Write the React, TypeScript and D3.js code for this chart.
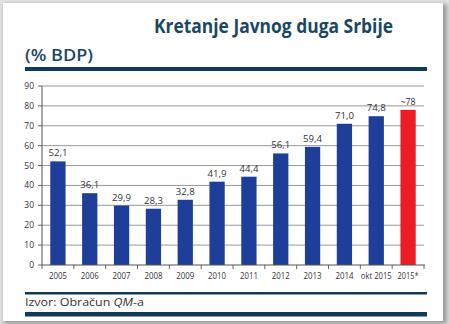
import React from "react";
import * as d3 from "d3";

const categories = ["2005", "2006", "2007", "2008", "2009", "2010", "2011", "2012", "2013", "2014", "okt 2015", "2015*"];
const values = [52.1, 36.1, 29.9, 28.3, 32.8, 41.9, 44.4, 56.1, 59.4, 71.0, 74.8, 78];
const valueLabels = ["52,1", "36,1", "29,9", "28,3", "32,8", "41,9", "44,4", "56,1", "59,4", "71,0", "74,8", "~78"];
const yTicks = [0, 10, 20, 30, 40, 50, 60, 70, 80, 90];
const highlighted = ["2015*"];

const W = 449;
const H = 324;
const plot = { left: 42, right: 424, top: 86, bottom: 265 };
const font = "'Open Sans', 'Noto Sans', sans-serif";
const dark = "#1a4863";

export default function App() {
  const x = d3.scaleBand<string>().domain(categories).range([plot.left, plot.right]).paddingInner(0.52).paddingOuter(0.26);
  const y = d3.scaleLinear().domain([0, 90]).range([plot.bottom, plot.top]);
  const step = x.step();
  const boundaries = d3.range(categories.length + 1).map((i) => plot.left + i * ((plot.right - plot.left) / categories.length));

  return (
    <svg width={W} height={H} style={{ position: "absolute", left: 0, top: 0 }} xmlns="http://www.w3.org/2000/svg">
      <defs>
        <filter id="sh" x="-10%" y="-10%" width="120%" height="120%">
          <feGaussianBlur stdDeviation="2" />
        </filter>
      </defs>
      <rect x={0} y={0} width={W} height={H} fill="#e2e2e2" />
      <rect x={4} y={4} width={443} height={320} fill="#9a9a9a" filter="url(#sh)" />
      <rect x={3} y={3} width={440} height={318} fill="#ffffff" />

      <text x={154} y={33} fontFamily={font} fontWeight={700} fontSize={19} fill={dark} textLength={239} lengthAdjust="spacingAndGlyphs">
        Kretanje Javnog duga Srbije
      </text>
      <text x={25} y={61} fontFamily={font} fontWeight={600} fontSize={17} fill={dark} textLength={68} lengthAdjust="spacingAndGlyphs">
        (% BDP)
      </text>
      <rect x={25} y={67} width={402} height={4} fill="#0f3b58" />

      {yTicks.map((t) => (
        <g key={t}>
          {t > 0 && <line x1={plot.left} x2={plot.right} y1={y(t)} y2={y(t)} stroke="#8c8c8c" strokeWidth={0.9} />}
          <line x1={plot.left - 4} x2={plot.left} y1={y(t)} y2={y(t)} stroke="#555" strokeWidth={0.9} />
          <text x={plot.left - 8} y={y(t) + 3} textAnchor="end" fontFamily={font} fontSize={8.5} fill="#333">
            {t}
          </text>
        </g>
      ))}

      {categories.map((c, i) => (
        <g key={c}>
          <rect
            x={x(c)!}
            y={y(values[i])}
            width={x.bandwidth()}
            height={y(0) - y(values[i])}
            fill={highlighted.includes(c) ? "#ec1c24" : "#1d3f99"}
          />
          <text x={x(c)! + x.bandwidth() / 2} y={y(values[i]) - 5} textAnchor="middle" fontFamily={font} fontSize={9.5} fill="#333" textLength={valueLabels[i].length > 3 ? 19 : 15} lengthAdjust="spacingAndGlyphs">
            {valueLabels[i]}
          </text>
          <text x={x(c)! + x.bandwidth() / 2} y={279} textAnchor="middle" fontFamily={font} fontSize={9} fill="#333" textLength={c.length > 5 ? 31 : c.length === 5 ? 21 : 18} lengthAdjust="spacingAndGlyphs">
            {c}
          </text>
        </g>
      ))}

      <line x1={plot.left} x2={plot.left} y1={plot.top} y2={plot.bottom} stroke="#555" strokeWidth={1} />
      <line x1={plot.left} x2={plot.right + 1} y1={plot.bottom} y2={plot.bottom} stroke="#555" strokeWidth={1} />
      {boundaries.map((b, i) => (
        <line key={i} x1={b} x2={b} y1={plot.bottom} y2={plot.bottom + 4} stroke="#555" strokeWidth={0.9} />
      ))}

      <rect x={25} y={292} width={402} height={2.5} fill="#0f3b58" />
      <text x={25} y={306} fontFamily={font} fontSize={11.5} fill="#333" textLength={119} lengthAdjust="spacingAndGlyphs">
        Izvor: Obračun <tspan fontStyle="italic">QM</tspan>-a
      </text>
      <rect x={25} y={312} width={402} height={4.5} fill="#0f3b58" />
    </svg>
  );
}
